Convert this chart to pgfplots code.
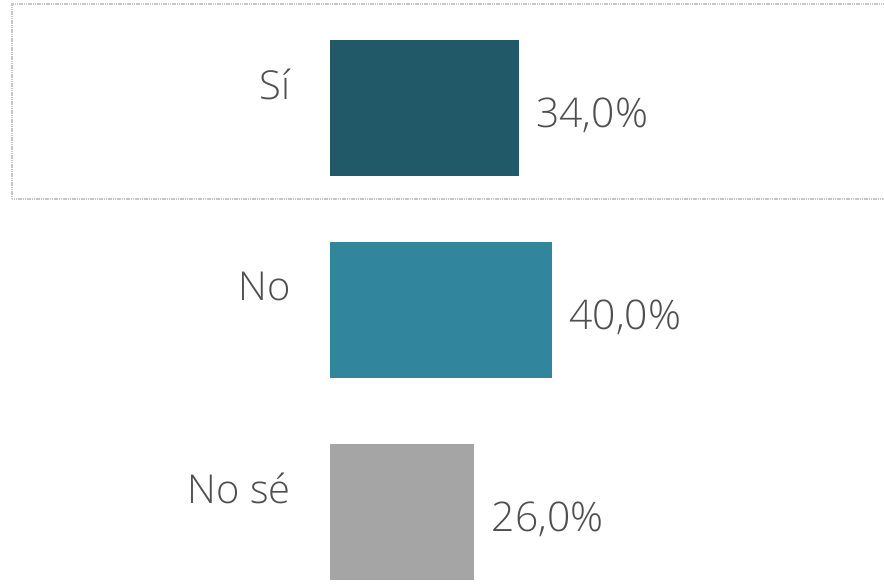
\documentclass[border=0pt]{standalone}
\usepackage{pgfplots}
\pgfplotsset{compat=1.18}
\usepackage{fontspec}
\setmainfont{Open Sans}[UprightFont=* Light]
\definecolor{c1}{HTML}{215968}
\definecolor{c2}{HTML}{31859C}
\definecolor{c3}{HTML}{A5A5A5}
\definecolor{txt}{HTML}{4F4F4F}
\begin{document}
\begin{tikzpicture}
\path[use as bounding box] (0,0) rectangle (884bp,584bp);
\draw[black!22, line width=1.2bp, dash pattern=on 1.2bp off 0.6bp] (12bp,385bp) rectangle (895bp,580bp);
\begin{axis}[
  at={(330bp,0bp)}, anchor=south west,
  scale only axis, width=554bp, height=584bp,
  xmin=0, xmax=99.8, ymin=-0.3564, ymax=2.5347,
  axis line style={draw=none},
  xtick=\empty, ytick={0,1,2}, yticklabels={No sé,No,Sí},
  major tick length=0pt,
  yticklabel style={font=\fontsize{40}{40}\selectfont, text=txt, anchor=east, xshift=-36bp, yshift=24bp},
  xbar, bar width=136bp, bar shift=0pt,
  point meta=explicit symbolic,
  nodes near coords,
  nodes near coords style={anchor=west, text=txt, font=\fontsize{41}{41}\selectfont, xshift=14bp, yshift=-7bp},
  clip=false,
]
\addplot[fill=c1, draw=none] coordinates {(34,2) [34,0\%]};
\addplot[fill=c2, draw=none] coordinates {(40,1) [40,0\%]};
\addplot[fill=c3, draw=none] coordinates {(26,0) [26,0\%]};
\end{axis}
\end{tikzpicture}
\end{document}
